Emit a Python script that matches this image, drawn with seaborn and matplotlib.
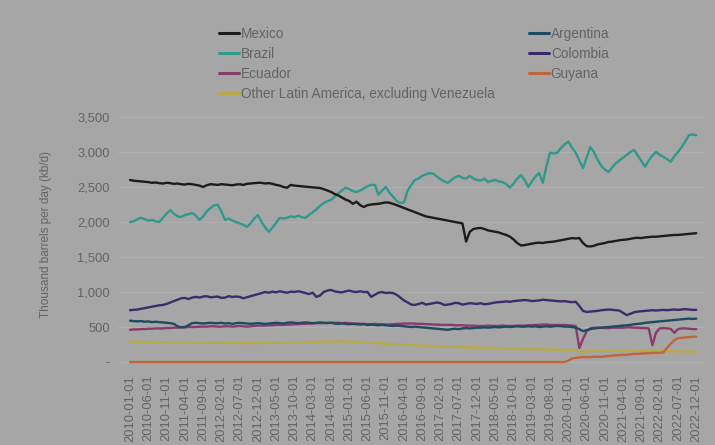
import numpy as np
import pandas as pd
import matplotlib
matplotlib.use("Agg")
import matplotlib.pyplot as plt
import seaborn as sns

months = pd.date_range("2010-01-01", "2022-12-01", freq="MS").strftime("%Y-%m-%d").tolist()

mexico = [
    2600, 2590, 2585, 2580, 2575, 2570, 2560, 2565, 2555, 2550, 2560, 2555,
    2545, 2550, 2540, 2535, 2545, 2540, 2530, 2520, 2500, 2525, 2540, 2535,
    2530, 2540, 2535, 2530, 2525, 2535, 2540, 2530, 2545, 2550, 2555, 2560,
    2560, 2550, 2555, 2545, 2530, 2520, 2500, 2490, 2530, 2520, 2515, 2510,
    2505, 2500, 2495, 2490, 2485, 2470, 2450, 2430, 2400, 2380, 2350, 2320,
    2300, 2260, 2290, 2240, 2215, 2240, 2250, 2255, 2260, 2270, 2280, 2275,
    2260, 2240, 2220, 2200, 2180, 2160, 2140, 2120, 2100, 2080, 2070, 2060,
    2050, 2040, 2030, 2020, 2010, 2000, 1990, 1980, 1720, 1860, 1900, 1910,
    1915, 1900, 1880, 1870, 1860, 1850, 1830, 1815, 1790, 1750, 1700, 1665,
    1670, 1680, 1690, 1700, 1705, 1700, 1710, 1715, 1720, 1730, 1740, 1750,
    1760, 1770, 1765, 1770, 1700, 1655, 1650, 1660, 1680, 1690, 1700, 1715,
    1720, 1730, 1740, 1745, 1750, 1760, 1770, 1775, 1770, 1780, 1785, 1790,
    1790, 1795, 1800, 1805, 1810, 1815, 1815, 1820, 1825, 1830, 1835, 1840,
]
brazil = [
    2000, 2010, 2040, 2060, 2040, 2020, 2030, 2010, 2000, 2060, 2120, 2170,
    2120, 2080, 2070, 2100, 2110, 2130, 2090, 2030, 2080, 2150, 2200, 2240,
    2245, 2150, 2030, 2050, 2020, 2000, 1980, 1960, 1930, 1980, 2050, 2100,
    2000, 1920, 1860, 1920, 1990, 2060, 2050, 2060, 2080, 2070, 2090, 2070,
    2060, 2100, 2140, 2180, 2230, 2270, 2300, 2315, 2360, 2410, 2450, 2490,
    2470, 2440, 2430, 2450, 2480, 2510, 2530, 2530, 2390, 2450, 2500, 2420,
    2360, 2300, 2270, 2280, 2450, 2530, 2600, 2620, 2660, 2680, 2700, 2690,
    2650, 2610, 2580, 2560, 2600, 2640, 2660, 2630, 2620, 2660, 2620, 2600,
    2590, 2620, 2570, 2590, 2600, 2580, 2570, 2540, 2490, 2550, 2620, 2670,
    2600, 2500, 2580, 2650, 2700, 2560, 2800, 2990, 2980, 2990, 3060, 3110,
    3150, 3060, 2990, 2880, 2770, 2920, 3070, 3000, 2890, 2800, 2750, 2715,
    2780, 2840, 2880, 2920, 2960, 3000, 3030, 2950, 2870, 2790, 2880, 2950,
    3000, 2960, 2930, 2900, 2860, 2940, 3000, 3070, 3150, 3240, 3250, 3240,
]
argentina = [
    590, 585, 580, 585, 575, 580, 570, 575, 570, 565, 560, 555,
    545, 510, 495, 500, 525, 555, 560, 555, 550, 555, 560, 555,
    555, 560, 550, 555, 545, 555, 560, 555, 550, 545, 550, 555,
    550, 545, 550, 555, 560, 555, 550, 560, 565, 560, 555, 560,
    565, 560, 555, 560, 565, 560, 555, 560, 550, 545, 550, 545,
    540, 545, 540, 535, 540, 530, 535, 530, 525, 530, 525, 520,
    515, 520, 515, 510, 505, 500, 505, 500, 495, 490, 485, 480,
    475, 470, 465, 460, 470, 475, 470, 480, 485, 480, 485, 490,
    490, 495, 490, 495, 500, 495, 500, 505, 500, 505, 510, 505,
    505, 510, 505, 510, 500, 505, 510, 505, 510, 515, 510, 505,
    505, 500, 490, 470, 440, 455, 470, 480, 485, 490, 495, 500,
    505, 510, 515, 520, 525, 530, 540, 545, 550, 560, 565, 570,
    575, 580, 585, 590, 595, 600, 605, 610, 615, 620, 615, 620,
]
colombia = [
    740, 745, 750, 760, 770, 780, 790, 800, 810, 815, 830, 850,
    870, 890, 910, 915, 900, 920, 930, 920, 935, 940, 925, 930,
    935, 915, 920, 940, 930, 935, 930, 910, 925, 940, 955, 970,
    985, 1000, 990, 1005, 995, 1010, 1000, 990, 1005, 1000, 1010, 1000,
    985, 970, 990, 930, 950, 1000, 1020, 1030, 1010, 1000, 995, 1010,
    1020, 1005, 1000, 1010, 1000, 1000, 930, 960, 990, 1000, 985, 990,
    985, 960, 920, 880, 850, 820, 815, 830, 845, 820, 830, 840,
    850, 840, 815, 820, 830, 845, 840, 820, 830, 840, 835, 830,
    840, 825, 830, 840, 850, 855, 860, 865, 860, 870, 875, 880,
    885, 880, 870, 875, 880, 890, 885, 880, 875, 870, 865, 870,
    860, 855, 860, 800, 730, 715, 720, 725, 730, 740, 745, 750,
    745, 740, 735, 700, 670, 690, 710, 720, 725, 730, 735, 740,
    735, 740, 745, 740, 745, 750, 745, 750, 755, 750, 745, 745,
]
ecuador = [
    460, 465, 465, 470, 470, 475, 475, 480, 480, 480, 485, 485,
    490, 490, 495, 495, 500, 500, 500, 505, 505, 505, 510, 510,
    505, 505, 510, 510, 505, 510, 515, 510, 505, 510, 515, 520,
    520, 520, 525, 525, 530, 530, 530, 535, 535, 540, 540, 545,
    545, 550, 550, 555, 555, 555, 560, 560, 560, 560, 555, 560,
    555, 550, 550, 545, 545, 540, 540, 545, 540, 540, 535, 535,
    540, 545, 545, 550, 550, 550, 550, 545, 545, 540, 540, 535,
    535, 530, 530, 530, 530, 525, 525, 525, 520, 520, 520, 515,
    515, 515, 520, 515, 515, 515, 520, 515, 515, 515, 520, 520,
    520, 525, 525, 530, 530, 535, 535, 530, 530, 530, 530, 530,
    525, 520, 515, 200, 330, 440, 480, 490, 490, 490, 485, 485,
    490, 490, 490, 490, 495, 495, 490, 490, 485, 485, 480, 240,
    420, 480, 485, 480, 475, 415, 470, 480, 480, 475, 470, 470,
]
guyana = [0] * 120 + [
    20, 50, 60, 65, 70, 70, 70, 75, 75, 75, 80, 85,
    90, 95, 100, 100, 105, 110, 115, 115, 120, 125, 125, 130,
    130, 130, 135, 200, 260, 310, 340, 345, 350, 355, 360, 360,
]
other = [
    290, 290, 288, 288, 287, 285, 285, 284, 283, 283, 282, 282,
    281, 280, 280, 279, 278, 278, 277, 276, 276, 275, 275, 274,
    274, 273, 273, 272, 272, 271, 271, 270, 270, 270, 269, 269,
    270, 271, 272, 273, 274, 275, 276, 277, 278, 279, 280, 282,
    283, 285, 287, 289, 290, 292, 293, 294, 295, 295, 294, 293,
    292, 290, 288, 285, 282, 278, 275, 272, 268, 265, 262, 258,
    255, 252, 249, 246, 243, 240, 238, 235, 232, 230, 228, 225,
    223, 221, 219, 217, 215, 213, 212, 210, 208, 207, 205, 204,
    203, 202, 200, 199, 198, 196, 195, 193, 192, 190, 189, 187,
    186, 185, 183, 182, 180, 179, 178, 177, 176, 175, 174, 173,
    172, 171, 165, 150, 145, 150, 155, 158, 160, 162, 163, 165,
    165, 166, 167, 166, 165, 164, 163, 162, 161, 160, 159, 158,
    157, 156, 155, 154, 153, 152, 151, 150, 150, 149, 148, 148,
]

series_names = ["Mexico", "Brazil", "Ecuador",
                "Other Latin America, excluding Venezuela",
                "Argentina", "Colombia", "Guyana"]
series_values = [mexico, brazil, ecuador, other, argentina, colombia, guyana]
y_ticks = [0, 500, 1000, 1500, 2000, 2500, 3000, 3500]
y_tick_labels = ["-", "500", "1,000", "1,500", "2,000", "2,500", "3,000", "3,500"]

palette = {
    "Mexico": "#1c1c1c",
    "Brazil": "#2f9a8b",
    "Ecuador": "#8b3a6e",
    "Other Latin America, excluding Venezuela": "#b7a948",
    "Argentina": "#1d4b62",
    "Colombia": "#3d2a6c",
    "Guyana": "#c2643c",
}

rows = []
for name, vals in zip(series_names, series_values):
    for i, v in enumerate(vals):
        rows.append({"idx": i, "date": months[i], "country": name, "kbd": v})
df = pd.DataFrame(rows)

BG = "#a6a6a6"
TXT = "#646464"
sns.set_style("white")
plt.rcParams["font.family"] = ["Liberation Sans", "DejaVu Sans"]

fig = plt.figure(figsize=(7.15, 4.45), dpi=100, facecolor=BG)
ax = fig.add_axes([118 / 715, (445 - 363.75) / 445, 587 / 715, (363.75 - 115.25) / 445])
ax.set_facecolor(BG)

draw_order = ["Other Latin America, excluding Venezuela", "Guyana", "Ecuador",
              "Argentina", "Colombia", "Brazil", "Mexico"]
for name in draw_order:
    sub = df[df["country"] == name]
    sns.lineplot(data=sub, x="idx", y="kbd", color=palette[name], linewidth=1.7,
                 ax=ax, label=name, legend=False, clip_on=False)

ax.set_xlim(-3.3, 157.4)
ax.set_ylim(-25, 3525)
ax.set_yticks(y_ticks)
ax.set_yticklabels(y_tick_labels)
xt = list(range(0, len(months), 5))
ax.set_xticks(xt)
ax.set_xticklabels([months[i] for i in xt], rotation=90)
ax.tick_params(axis="both", length=0, colors=TXT, labelsize=9.3)
ax.tick_params(axis="x", pad=8)
ax.tick_params(axis="y", pad=6)
for s in ax.spines.values():
    s.set_visible(False)
ax.grid(axis="y", color="#b0b0b0", linewidth=0.8)
ax.set_axisbelow(True)
ax.set_xlabel("")
ax.set_ylabel("Thousand barrels per day (kb/d)", color=TXT, fontsize=8.5)
ax.yaxis.set_label_coords(-(118 - 52) / 587, 0.52)

handles = {name: plt.Line2D([], [], color=palette[name], linewidth=2.2) for name in series_names}
left = ["Mexico", "Brazil", "Ecuador", "Other Latin America, excluding Venezuela"]
right = ["Argentina", "Colombia", "Guyana"]
common = dict(loc="upper left", frameon=False, fontsize=9.8, handlelength=1.5,
              handletextpad=0.1, labelspacing=0.43, borderpad=0, borderaxespad=0,
              labelcolor=TXT)
leg1 = fig.legend([handles[n] for n in left], left,
                  bbox_to_anchor=(219 / 715, 1 - 27 / 445), **common)
leg2 = fig.legend([handles[n] for n in right], right,
                  bbox_to_anchor=(529 / 715, 1 - 27 / 445), **common)

fig.savefig("out.png", dpi=100, facecolor=BG)
